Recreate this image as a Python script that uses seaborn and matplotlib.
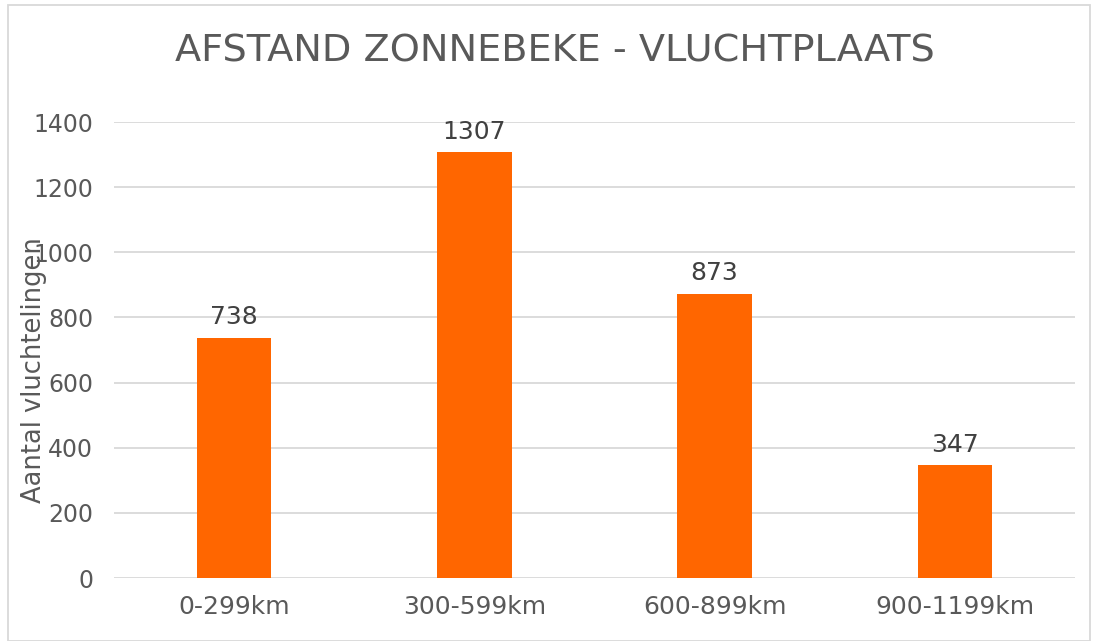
import matplotlib
matplotlib.use("Agg")
import matplotlib.pyplot as plt
import seaborn as sns
import pandas as pd
from matplotlib.patches import Rectangle

categories = ["0-299km", "300-599km", "600-899km", "900-1199km"]
values = [738, 1307, 873, 347]
title = "AFSTAND ZONNEBEKE - VLUCHTPLAATS"
ylabel = "Aantal vluchtelingen"
yticks = [0, 200, 400, 600, 800, 1000, 1200, 1400]

sns.set_theme(style="white")
plt.rcParams['font.family'] = ['DejaVu Sans']

df = pd.DataFrame({"cat": categories, "val": values})

fig = plt.figure(figsize=(10.93, 6.41), dpi=100)
ax = fig.add_axes([114/1093, 1-578/641, (1075-114)/1093, (578-122)/641])

sns.barplot(data=df, x="cat", y="val", color="#FF6600", width=0.31, ax=ax,
            saturation=1, zorder=3)
for p in ax.patches:
    p.set_edgecolor("none")

ax.set_ylim(0, 1400)
ax.set_yticks(yticks)
ax.set_xlim(-0.5, 3.5)
ax.yaxis.grid(True, color="#d9d9d9", linewidth=1.3, zorder=0)
ax.set_axisbelow(True)
for s in ax.spines.values():
    s.set_visible(False)
ax.tick_params(axis="y", labelsize=17, labelcolor="#595959", length=0, pad=15)
ax.tick_params(axis="x", labelsize=18, labelcolor="#595959", length=0, pad=12)
ax.set_xlabel("")
ax.set_ylabel(ylabel, fontsize=18.5, color="#595959")
ax.yaxis.set_label_coords(-0.070, 0.456)

for i, v in enumerate(values):
    ax.annotate(str(v), (i, v), xytext=(0, 6), textcoords="offset points",
                ha="center", va="bottom", fontsize=18, color="#404040")

fig.text(555/1093, 1-52/641, title, ha="center", va="center", fontsize=27.5,
         color="#595959")

fig.patches.append(Rectangle((8/1093, 0.0), (1090-8)/1093, 1-5/641,
                             transform=fig.transFigure, fill=False,
                             edgecolor="#d9d9d9", linewidth=1.3))

fig.savefig("out.png", dpi=100)
